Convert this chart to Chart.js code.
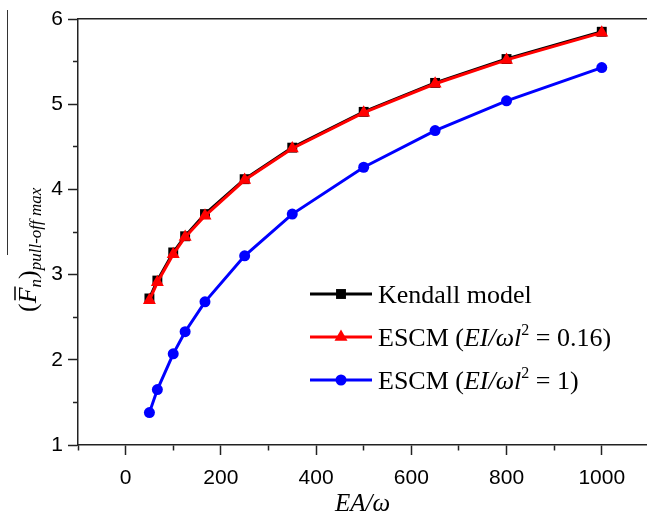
<!DOCTYPE html>
<html>
<head>
<meta charset="utf-8">
<script src="https://cdn.jsdelivr.net/npm/chart.js@4.4.0/dist/chart.umd.min.js"></script>
<style>
body { margin: 0; background: #fff; }
canvas { display: block; }
</style>
</head>
<body>
<canvas id="myChart" width="647" height="513"></canvas>
<script>
// values
const xValues = [50, 66.7, 100, 125, 166.7, 250, 350, 500, 650, 800, 1000];
const kendall = [2.72, 2.93, 3.26, 3.45, 3.71, 4.12, 4.49, 4.91, 5.25, 5.53, 5.85];
const escm016 = [2.70, 2.91, 3.24, 3.44, 3.69, 4.11, 4.48, 4.90, 5.24, 5.52, 5.84];
const escm1 = [1.38, 1.65, 2.07, 2.33, 2.68, 3.22, 3.71, 4.26, 4.69, 5.04, 5.43];

const seriesNames = [
    'Kendall model',
    'ESCM (<i>EI/ωl</i><sup>2</sup> = 0.16)',
    'ESCM (<i>EI/ωl</i><sup>2</sup> = 1)'
];
const xTicks = [-100, 0, 100, 200, 300, 400, 500, 600, 700, 800, 900, 1000];
const xTickLabels = ['0', '200', '400', '600', '800', '1000'];
const yTickLabels = ['1', '2', '3', '4', '5', '6'];
const xTitle = 'EA/ω';

const serif = '"Liberation Serif", "Times New Roman", serif';
const sans = '"Liberation Sans", Arial, sans-serif';

function points(ys) {
    return xValues.map((x, i) => ({ x: x, y: ys[i] }));
}

// draw a run of text pieces one after another, returns total width
function drawRich(ctx, parts, x, y) {
    let cx = x;
    parts.forEach(p => {
        ctx.font = p.font;
        ctx.fillText(p.text, cx, y + (p.dy || 0));
        p.x = cx;
        p.w = ctx.measureText(p.text).width;
        cx += p.w;
    });
    return cx - x;
}

function richParts(name) {
    return name.split(/(<i>.*?<\/i>|<sup>.*?<\/sup>)/).filter(s => s).map(s => {
        if (s.startsWith('<i>')) return { text: s.slice(3, -4), font: 'italic 26px ' + serif };
        if (s.startsWith('<sup>')) return { text: s.slice(5, -6), font: '16px ' + serif, dy: -11 };
        return { text: s, font: '26px ' + serif };
    });
}

const legendPlugin = {
    id: 'richLegend',
    afterDraw(chart) {
        const ctx = chart.ctx;
        const ca = chart.chartArea;
        const left = ca.left + 232;
        const top = ca.top + 275;
        ctx.save();
        chart.data.datasets.forEach((ds, i) => {
            const y = top + i * 43;
            ctx.strokeStyle = ds.borderColor;
            ctx.lineWidth = 3;
            ctx.beginPath();
            ctx.moveTo(left, y);
            ctx.lineTo(left + 62, y);
            ctx.stroke();
            ctx.fillStyle = ds.pointBackgroundColor;
            Chart.helpers.drawPoint(ctx, {
                pointStyle: ds.pointStyle, radius: ds.pointRadius, rotation: 0, borderWidth: 0
            }, left + 31, y);
            ctx.fillStyle = '#000';
            ctx.textBaseline = 'alphabetic';
            ctx.textAlign = 'left';
            drawRich(ctx, richParts(seriesNames[i]), left + 68, y + 9);
        });
        ctx.restore();
    }
};

const yTitlePlugin = {
    id: 'yTitle',
    afterDraw(chart) {
        const ctx = chart.ctx;
        const ca = chart.chartArea;
        ctx.save();
        ctx.fillStyle = '#000';
        ctx.textAlign = 'left';
        ctx.textBaseline = 'alphabetic';
        // long bar at far left
        ctx.strokeStyle = '#333';
        ctx.lineWidth = 1;
        ctx.beginPath();
        ctx.moveTo(7.5, 10);
        ctx.lineTo(7.5, 255);
        ctx.stroke();

        ctx.translate(36, ca.top + 293);
        ctx.rotate(-Math.PI / 2);
        const parts = [
            { text: '(', font: '26px ' + serif },
            { text: 'F', font: 'italic 26px ' + serif },
            { text: 'n', font: 'italic 17px ' + serif, dy: 5 },
            { text: ')', font: '26px ' + serif },
            { text: 'pull-off max', font: 'italic 17px ' + serif, dy: 5 }
        ];
        drawRich(ctx, parts, 0, 0);
        const f = parts[1];
        ctx.lineWidth = 1.5;
        ctx.strokeStyle = '#000';
        ctx.beginPath();
        ctx.moveTo(f.x + 3, -21);
        ctx.lineTo(f.x + f.w + 1, -21);
        ctx.stroke();
        ctx.restore();
    }
};

const ctx = document.getElementById('myChart').getContext('2d');
const myChart = new Chart(ctx, {
    type: 'line',
    data: {
        datasets: [
            {
                label: 'Kendall model',
                data: points(kendall),
                borderColor: '#000000',
                pointBackgroundColor: '#000000',
                pointBorderWidth: 0,
                pointStyle: 'rect',
                pointRadius: 7,
                borderWidth: 3,
                order: 3
            },
            {
                label: 'ESCM 0.16',
                data: points(escm016),
                borderColor: '#ff0000',
                pointBackgroundColor: '#ff0000',
                pointBorderWidth: 0,
                pointStyle: 'triangle',
                pointRadius: 7.5,
                borderWidth: 3,
                order: 2
            },
            {
                label: 'ESCM 1',
                data: points(escm1),
                borderColor: '#0000ff',
                pointBackgroundColor: '#0000ff',
                pointBorderWidth: 0,
                pointStyle: 'circle',
                pointRadius: 5.5,
                borderWidth: 3,
                order: 1
            }
        ]
    },
    options: {
        responsive: false,
        animation: false,
        devicePixelRatio: 1,
        layout: { autoPadding: false, padding: { left: 0, right: 0, top: 19, bottom: 0 } },
        plugins: {
            legend: { display: false },
            tooltip: { enabled: false }
        },
        elements: { line: { tension: 0 } },
        scales: {
            x: {
                type: 'linear',
                position: 'bottom',
                min: -100,
                max: 1095,
                afterBuildTicks: s => { s.ticks = xTicks.map(v => ({ value: v })); },
                afterFit: s => { s.height = 68; s.paddingLeft = 0; s.paddingRight = 0; },
                ticks: {
                    autoSkip: false,
                    maxRotation: 0,
                    padding: 11,
                    color: '#000',
                    font: { family: sans, size: 21 },
                    callback: v => xTickLabels.includes(String(Math.round(v))) ? String(Math.round(v)) : ''
                },
                grid: {
                    drawOnChartArea: false,
                    tickLength: 10,
                    tickColor: '#222',
                    tickWidth: 1.5,
                    tickBorderDash: c => (c.tick && Math.round(c.tick.value) % 200 === 0) ? [] : [5, 50]
                },
                border: { color: '#222', width: 1.5 },
                title: {
                    display: true,
                    text: xTitle,
                    color: '#000',
                    font: { family: serif, size: 25, style: 'italic', lineHeight: 1 },
                    padding: { top: 0, bottom: -4 }
                }
            },
            x2: {
                type: 'linear',
                position: 'top',
                min: -100,
                max: 1095,
                afterFit: s => { s.paddingLeft = 0; s.paddingRight = 0; },
                ticks: { display: false },
                grid: { drawOnChartArea: false, drawTicks: false },
                border: { color: '#222', width: 1.5 }
            },
            y: {
                type: 'linear',
                min: 1,
                max: 6,
                afterFit: s => { s.width = 78; s.paddingTop = 0; s.paddingBottom = 0; },
                ticks: {
                    stepSize: 0.5,
                    autoSkip: false,
                    padding: 5,
                    color: '#000',
                    font: { family: sans, size: 21 },
                    callback: v => yTickLabels.includes(String(v)) ? String(v) : ''
                },
                grid: {
                    drawOnChartArea: false,
                    tickLength: 10,
                    tickColor: '#222',
                    tickWidth: 1.5,
                    tickBorderDash: c => (c.tick && c.tick.value % 1 === 0) ? [] : [0, 5, 5, 50]
                },
                border: { color: '#222', width: 1.5 }
            }
        }
    },
    plugins: [legendPlugin, yTitlePlugin]
});
</script>
</body>
</html>
